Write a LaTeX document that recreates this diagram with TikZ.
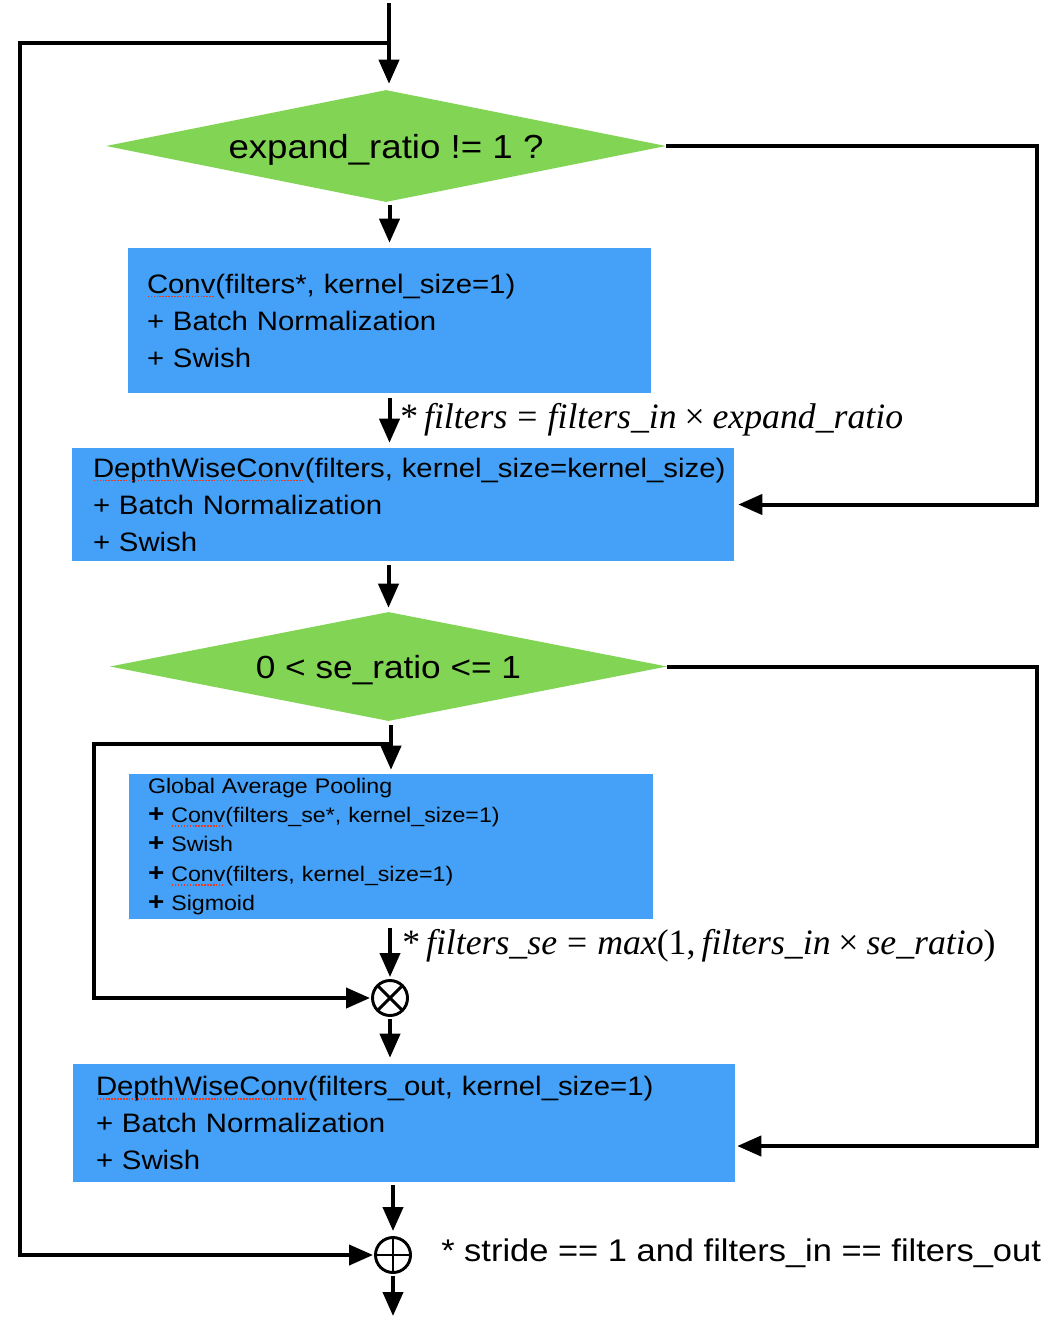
\documentclass[tikz,border=0pt]{standalone}
\usepackage{fontspec}
\setmainfont{Liberation Sans}[FakeStretch=1.1]
\newfontfamily\tmsfont{Liberation Serif}
\usetikzlibrary{arrows.meta,shapes.geometric}

\definecolor{boxblue}{RGB}{68,161,247}
\definecolor{diagreen}{RGB}{129,212,84}
\definecolor{spellred}{RGB}{226,60,40}

% one drawing unit
\newdimen\pxu \pxu=0.75pt

% red dotted spell-check underline
\newlength\spellw
\newcommand\spellmark[1]{\settowidth\spellw{#1}\rlap{#1}\raisebox{-3.2pt}{\color{spellred}\leaders\hbox to 2.2pt{\hss\rule{1.1pt}{1.1pt}\hss}\hskip\spellw}}
\newcommand\mvar[1]{\textit{#1}}
\newcommand\blockfont{\fontsize{20}{27.75}\selectfont}
\newcommand\smallblockfont{\fontsize{15.8}{22.1}\selectfont}
\newcommand\notefont{\tmsfont\fontsize{26.8}{30}\selectfont}
\newcommand\bigplus{{\fontsize{19}{20}\selectfont\textbf{+}}}

\tikzset{
  flow/.style={line width=3pt, -{Triangle[length=18pt,width=15pt]}},
  decision/.style={diamond, aspect=5, fill=diagreen, inner sep=0pt, text depth=0pt},
  stepbox/.style={rectangle, fill=boxblue, inner ysep=0pt, align=left},
  joint/.style={circle, draw, line width=2.2pt, minimum size=35\pxu, inner sep=0pt},
  note/.style={anchor=west, inner sep=0pt}
}

\begin{document}
\begin{tikzpicture}[x=0.75pt,y=-0.75pt]
\fill[white] (0,0) rectangle (1058,1320);
\useasboundingbox (0,0) rectangle (1058,1320);

% decisions and blocks
\node[decision, minimum width=560\pxu, minimum height=112\pxu,
  font=\fontsize{25}{30}\selectfont] (d1) at (386,146) {expand\_ratio != 1 ?};

\node[stepbox, minimum width=523\pxu, minimum height=145\pxu, inner xsep=19\pxu,
  text width=485\pxu, font=\blockfont] (b1) at (389.5,320.5)
  {\spellmark{Conv}(filters*, kernel\_size=1)\\+ Batch Normalization\\+ Swish};

\node[stepbox, minimum width=662\pxu, minimum height=113\pxu, inner xsep=21\pxu,
  text width=620\pxu, font=\blockfont] (b2) at (403,504.5)
  {\mbox{\spellmark{DepthWiseConv}(filters, kernel\_size=kernel\_size)}\\+ Batch Normalization\\+ Swish};

\node[decision, minimum width=557\pxu, minimum height=109\pxu,
  font=\fontsize{24}{30}\selectfont] (d2) at (388.5,666.5) {0 < se\_ratio <= 1};

\node[stepbox, minimum width=524\pxu, minimum height=145\pxu, inner xsep=19\pxu,
  text width=486\pxu, font=\smallblockfont] (b3) at (391,846.5)
  {Global Average Pooling\\
   \bigplus\ \spellmark{Conv}(filters\_se*, kernel\_size=1)\\
   \bigplus\ Swish\\
   \bigplus\ \spellmark{Conv}(filters, kernel\_size=1)\\
   \bigplus\ Sigmoid};

\node[joint, path picture={
    \draw[line width=2.2pt] (path picture bounding box.north west) -- (path picture bounding box.south east);
    \draw[line width=2.2pt] (path picture bounding box.south west) -- (path picture bounding box.north east);}]
  (mul) at (390,998) {};

\node[stepbox, minimum width=662\pxu, minimum height=118\pxu, inner xsep=23\pxu,
  text width=616\pxu, font=\blockfont] (b4) at (404,1123)
  {\spellmark{DepthWiseConv}(filters\_out, kernel\_size=1)\\+ Batch Normalization\\+ Swish};

\node[joint, path picture={
    \draw[line width=2.2pt] (path picture bounding box.north) -- (path picture bounding box.south);
    \draw[line width=2.2pt] (path picture bounding box.west) -- (path picture bounding box.east);}]
  (add) at (393,1255) {};

% annotations
\node[note, font=\notefont] (note1) at (400,420)
  {*\,\mvar{filters}\hspace{0.28em}=\hspace{0.28em}\mvar{filters\_in}\hspace{0.22em}×\hspace{0.22em}\mvar{expand\_ratio}};
\node[note, font=\notefont] (note2) at (402,946)
  {*\,\mvar{filters\_se}\hspace{0.28em}=\hspace{0.28em}\mvar{max}(1,\hspace{0.17em}\mvar{filters\_in}\hspace{0.22em}×\hspace{0.22em}\mvar{se\_ratio})};
\node[note, font=\fontsize{23.5}{28}\selectfont] (cond) at (441,1253)
  {* stride == 1 and filters\_in == filters\_out};

% routing points
\coordinate (in) at (389,3);
\coordinate (split) at (389,43);
\coordinate (skipL) at (20,43);
\coordinate (skipB) at (20,1255);
\coordinate (r1) at (1037,146);
\coordinate (r1b) at (1037,504.5);
\coordinate (r2) at (1037,666.5);
\coordinate (r2b) at (1037,1146);
\coordinate (se) at (391,744);
\coordinate (seL) at (94,744);
\coordinate (seB) at (94,998);
\coordinate (out) at (393,1316);

% main flow
\draw[flow, shorten >=6\pxu] (in) -- (in |- d1.north);
\draw[flow, shorten <=3\pxu, shorten >=5\pxu] (b1.north |- d1.south) -- (b1.north);
\draw[flow, shorten <=5\pxu, shorten >=5\pxu] (b1.south) -- (b1.south |- b2.north);
\draw[flow, shorten <=4\pxu, shorten >=4\pxu] (d2.north |- b2.south) -- (d2.north);
\draw[flow, shorten <=4\pxu, shorten >=4\pxu] (b3.north |- d2.south) -- (b3.north);
\draw[flow, shorten <=9\pxu, shorten >=2\pxu] (mul.north |- b3.south) -- (mul.north);
\draw[flow, shorten <=2\pxu, shorten >=6\pxu] (mul.south) -- (mul.south |- b4.north);
\draw[flow, shorten <=3\pxu, shorten >=5\pxu] (add.north |- b4.south) -- (add.north);
\draw[flow, shorten <=2\pxu] (add.south) -- (out);

% bypass branches
\draw[flow, shorten >=4\pxu] (d1.east) -- (r1) -- (r1b) -- (b2.east);
\draw[flow, shorten >=2\pxu] (d2.east) -- (r2) -- (r2b) -- (b4.east |- r2b);
\draw[flow, shorten >=1\pxu] (se) -- (seL) -- (seB) -- (mul.west);
\draw[flow, shorten >=1\pxu] (split) -- (skipL) -- (skipB) -- (add.west);
\end{tikzpicture}
\end{document}
